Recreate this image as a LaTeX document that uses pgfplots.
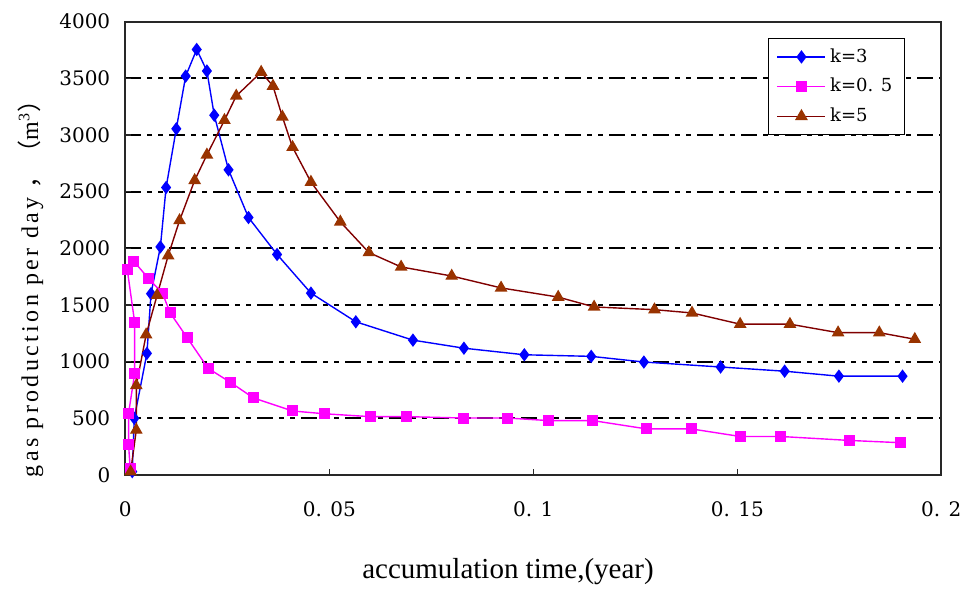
\documentclass[border=0pt]{standalone}
\usepackage{fontspec}
\usepackage{pgfplots}
\pgfplotsset{compat=1.18}
\setmainfont{Liberation Serif}
\newfontfamily\tickfont{DejaVu Serif}
\newfontfamily\ylabfont[LetterSpace=14]{Liberation Serif}
\newfontfamily\cjk{Noto Sans CJK SC}
\definecolor{kblue}{RGB}{0,0,255}
\definecolor{kmag}{RGB}{255,0,255}
\definecolor{kbrownline}{RGB}{128,0,0}
\definecolor{kbrown}{RGB}{153,51,0}
\definecolor{axgray}{RGB}{40,40,40}
\begin{document}
\begin{tikzpicture}
\path[use as bounding box] (-62.65pt,-57.5pt) rectangle (418.35pt,237.5pt);
\begin{axis}[
  at={(0pt,0pt)}, anchor=south west,
  scale only axis, width=408pt, height=226.65pt,
  xmin=0, xmax=0.2, ymin=0, ymax=4000,
  xtick={0,0.05,0.1,0.15,0.2},
  xticklabels={0,{0. 05},{0. 1},{0. 15},{0. 2}},
  ytick={0,500,1000,1500,2000,2500,3000,3500,4000},
  yticklabels={0,500,1000,1500,2000,2500,3000,3500,4000},
  tick align=inside, xtick pos=bottom, ytick pos=left,
  major tick length=3pt,
  tick style={axgray, line width=0.6pt},
  axis line style={axgray, line width=1pt},
  ymajorgrids,
  major grid style={black, line width=0.9pt, dash pattern=on 8pt off 3pt on 2.5pt off 3pt on 2.5pt off 3pt},
  ticklabel style={font=\tickfont\fontsize{10}{12}\selectfont},
  xticklabel style={yshift=-10pt},
  yticklabel style={xshift=-4pt},
  xlabel={accumulation time,(year)},
  xlabel style={at={(axis description cs:0.469,-0.214)}, anchor=center, font=\fontsize{14.5}{16}\selectfont},
  ylabel={{\ylabfont gas production per day }{\cjk ，（}{\ylabfont m\textsuperscript{3}}{\cjk ）}},
  ylabel style={at={(axis description cs:-0.1164,0.424)}, anchor=center, font=\fontsize{12}{14}\selectfont},
  legend style={at={(axis description cs:0.9555,0.964)}, anchor=north east, draw=black, line width=0.6pt, fill=white,
    font=\tickfont\fontsize{9}{10}\selectfont, row sep=2.5pt, inner xsep=4pt, inner ysep=3pt, cells={anchor=west}},
  legend image code/.code={\draw[mark repeat=2,mark phase=2] plot coordinates {(0pt,0pt) (12pt,0pt) (24pt,0pt)};},
  clip=false,
]
\addplot[kblue, line width=0.7pt, mark=diamond*, mark size=2.8pt, mark options={solid, fill=kblue, draw=kblue}] coordinates {
(0.0017,30) (0.0022,500) (0.0053,1073) (0.0063,1600) (0.0086,2013) (0.0100,2537)
(0.0125,3055) (0.0148,3520) (0.0175,3755) (0.0200,3565) (0.0218,3175) (0.0253,2693)
(0.0302,2272) (0.0372,1946) (0.0455,1605) (0.0565,1352) (0.0705,1190) (0.0830,1119)
(0.0978,1061) (0.1142,1047) (0.1271,997) (0.1459,953) (0.1616,916) (0.1749,872) (0.1905,872)
};
\addlegendentry{k=3}
\addplot[kmag, line width=0.7pt, mark=square*, mark size=2.4pt, mark options={solid, fill=kmag, draw=kmag}] coordinates {
(0.0012,60) (0.0008,265) (0.0008,544) (0.0023,897) (0.0023,1345) (0.0005,1810) (0.0021,1885)
(0.0058,1730) (0.0091,1605) (0.0110,1430) (0.0152,1210) (0.0203,941) (0.0258,817)
(0.0314,680) (0.0410,565) (0.0489,540) (0.0600,515) (0.0690,515) (0.0828,503) (0.0936,503)
(0.1038,480) (0.1146,480) (0.1277,407) (0.1387,407) (0.1507,340) (0.1606,340) (0.1775,305) (0.1900,285)
};
\addlegendentry{k=0. 5}
\addplot[kbrownline, line width=0.7pt, mark=triangle*, mark size=3pt, mark options={solid, fill=kbrown, draw=kbrown}] coordinates {
(0.0013,29) (0.0027,397) (0.0027,790) (0.0051,1238) (0.0078,1587) (0.0105,1935) (0.0133,2246)
(0.0170,2600) (0.0200,2825) (0.0243,3130) (0.0272,3345) (0.0333,3555) (0.0362,3432) (0.0385,3160)
(0.0410,2892) (0.0455,2585) (0.0527,2234) (0.0597,1963) (0.0676,1836) (0.0800,1756) (0.0921,1651)
(0.1061,1570) (0.1149,1483) (0.1297,1459) (0.1389,1430) (0.1507,1331) (0.1629,1331) (0.1747,1256)
(0.1848,1256) (0.1935,1198)
};
\addlegendentry{k=5}
\end{axis}
\end{tikzpicture}
\end{document}
